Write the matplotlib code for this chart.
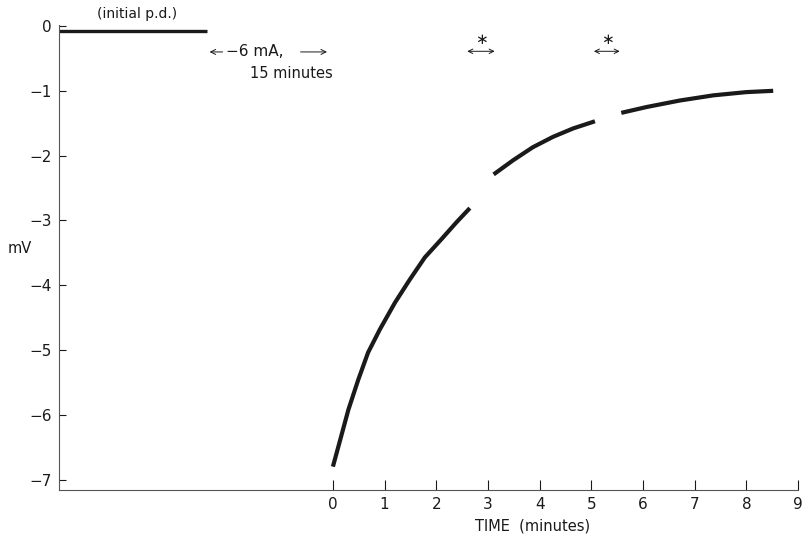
"""Potential difference recovery after a -6 mA, 15 minute current pulse."""

import matplotlib
matplotlib.use("Agg")
import matplotlib.pyplot as plt

plt.rcParams["font.family"] = ["DejaVu Sans"]

# initial p.d. before the current was applied (minutes, mV)
INITIAL_T = [-5.30, -2.44]
INITIAL_MV = [-0.07, -0.07]

SEG1_T = [0.0, 0.14, 0.30, 0.49, 0.68, 0.91, 1.20, 1.49, 1.78, 2.10, 2.39, 2.65]
SEG1_MV = [-6.80, -6.39, -5.92, -5.46, -5.04, -4.68, -4.27, -3.91, -3.57,
           -3.29, -3.03, -2.81]
SEG2_T = [3.11, 3.49, 3.87, 4.26, 4.65, 5.07]
SEG2_MV = [-2.29, -2.07, -1.87, -1.71, -1.58, -1.47]
SEG3_T = [5.58, 6.07, 6.71, 7.36, 8.00, 8.52]
SEG3_MV = [-1.34, -1.25, -1.15, -1.07, -1.02, -1.00]

# starred interruptions: centre and span (minutes)
STAR_CENTRES = [2.88, 5.32]
STAR_SPANS = [(2.60, 3.13), (5.05, 5.55)]

X_TICKS = list(range(10))
Y_TICKS = list(range(0, -8, -1))

INK = "#1a1a1a"


def main() -> None:
    fig = plt.figure(figsize=(8.06, 5.41), dpi=100)
    ax = fig.add_axes([0.0732, 0.0943, 0.9169, 0.8600])

    ax.plot(INITIAL_T, INITIAL_MV, color=INK, lw=2.4, solid_capstyle="butt")
    for t, mv in ((SEG1_T, SEG1_MV), (SEG2_T, SEG2_MV), (SEG3_T, SEG3_MV)):
        ax.plot(t, mv, color=INK, lw=3.0, solid_capstyle="butt",
                solid_joinstyle="round")

    ax.set_xlim(-5.30, 9.0)
    ax.set_ylim(-7.16, 0.02)

    for side in ("top", "right"):
        ax.spines[side].set_visible(False)
    for side in ("left", "bottom"):
        ax.spines[side].set_linewidth(0.8)
        ax.spines[side].set_color("#555555")

    ax.set_xticks(X_TICKS)
    ax.set_xticklabels([str(v) for v in X_TICKS])
    ax.set_yticks(Y_TICKS)
    ax.set_yticklabels([str(v).replace("-", "\u2212") for v in Y_TICKS])
    ax.tick_params(axis="x", direction="in", length=7, width=0.8,
                   pad=5, labelsize=11, colors=INK)
    ax.tick_params(axis="y", direction="in", length=5, width=0.8,
                   pad=5, labelsize=11, colors=INK)

    # annotations
    ax.text(-3.79, 0.18, "(initial p.d.)", ha="center", va="center",
            fontsize=10, color=INK, clip_on=False)
    ax.text(-1.51, -0.40, "\u22126 mA,", ha="center", va="center",
            fontsize=11, color=INK)
    ax.text(-0.80, -0.74, "15 minutes", ha="center", va="center",
            fontsize=10.5, color=INK)
    arrow = dict(arrowstyle="->", lw=0.7, color=INK, mutation_scale=9)
    ax.annotate("", xy=(-2.44, -0.40), xytext=(-2.08, -0.40), arrowprops=arrow)
    ax.annotate("", xy=(-0.06, -0.40), xytext=(-0.68, -0.40), arrowprops=arrow)

    both = dict(arrowstyle="<->", lw=0.7, color=INK, mutation_scale=8,
                shrinkA=0, shrinkB=0)
    for c, (a, b) in zip(STAR_CENTRES, STAR_SPANS):
        ax.text(c, -0.21, "\u2217", ha="center", va="center", fontsize=11,
                color=INK)
        ax.annotate("", xy=(a, -0.39), xytext=(b, -0.39), arrowprops=both)

    ax.text(-6.05, -3.44, "mV", ha="center", va="center", fontsize=10.5,
            color=INK, clip_on=False)
    ax.text(3.87, -7.72, "TIME  (minutes)", ha="center", va="center",
            fontsize=10.5, color=INK, clip_on=False)

    fig.savefig("out.png", dpi=100)


if __name__ == "__main__":
    main()
